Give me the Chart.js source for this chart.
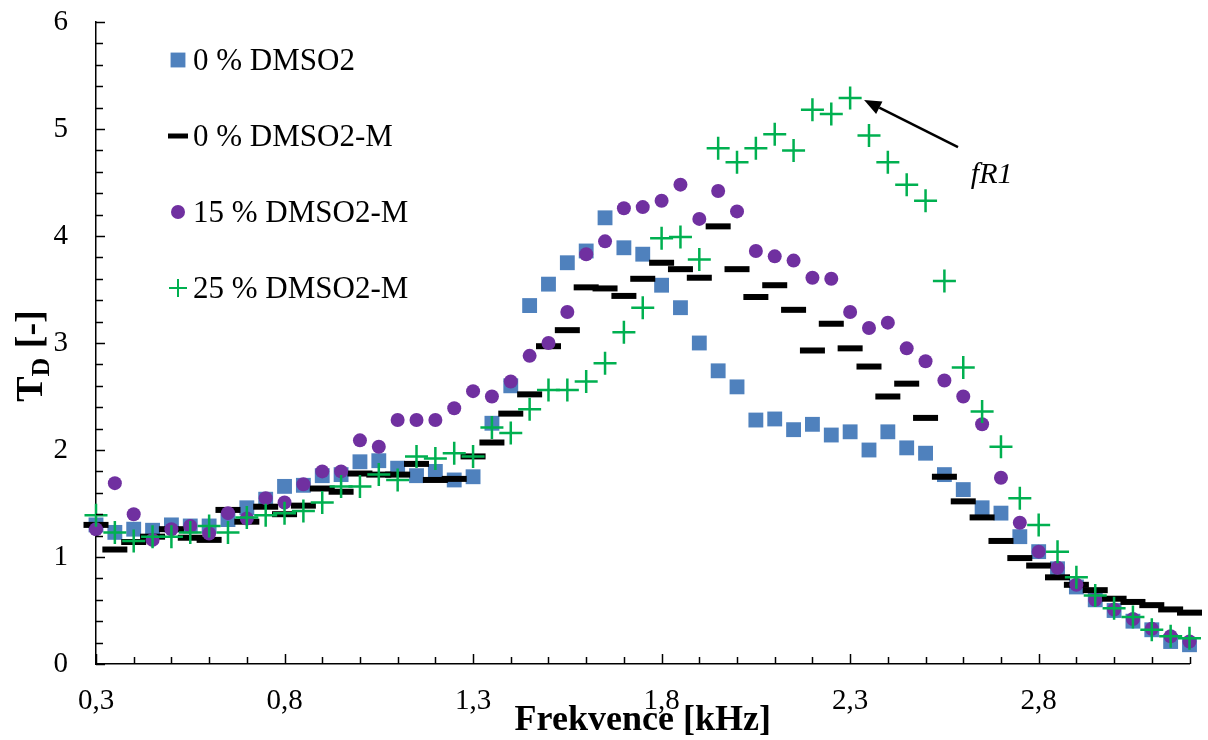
<!DOCTYPE html>
<html lang="cs">
<head>
    <meta charset="UTF-8">
    <title>T_D – Frekvence</title>
    <script src="https://cdn.jsdelivr.net/npm/chart.js"></script>
    <style>
        body { margin: 0; background: #fff; }
        #wrap { width: 1208px; height: 740px; }
    </style>
</head>
<body>
<div id="wrap"><canvas id="graf" width="1208" height="740"></canvas></div>
<script>
// === DATA ===
const frekvence = [0.30, 0.35, 0.40, 0.45, 0.50, 0.55, 0.60, 0.65, 0.70, 0.75,
    0.80, 0.85, 0.90, 0.95, 1.00, 1.05, 1.10, 1.15, 1.20, 1.25,
    1.30, 1.35, 1.40, 1.45, 1.50, 1.55, 1.60, 1.65, 1.70, 1.75,
    1.80, 1.85, 1.90, 1.95, 2.00, 2.05, 2.10, 2.15, 2.20, 2.25,
    2.30, 2.35, 2.40, 2.45, 2.50, 2.55, 2.60, 2.65, 2.70, 2.75,
    2.80, 2.85, 2.90, 2.95, 3.00, 3.05, 3.10, 3.15, 3.20];

const dmso0 = [1.30, 1.23, 1.26, 1.25, 1.30, 1.29, 1.29, 1.35, 1.46, 1.54,
    1.66, 1.67, 1.76, 1.77, 1.89, 1.90, 1.83, 1.76, 1.80, 1.72,
    1.75, 2.25, 2.60, 3.35, 3.55, 3.75, 3.86, 4.17, 3.89, 3.83,
    3.54, 3.33, 3.00, 2.74, 2.59, 2.28, 2.29, 2.19, 2.24, 2.14,
    2.17, 2.00, 2.17, 2.02, 1.97, 1.77, 1.63, 1.46, 1.41, 1.19,
    1.05, 0.89, 0.72, 0.60, 0.50, 0.40, 0.32, 0.21, 0.18];

const dmso0M = [1.30, 1.07, 1.14, 1.19, 1.26, 1.18, 1.16, 1.44, 1.33, 1.47,
    1.40, 1.48, 1.64, 1.61, 1.78, 1.77, 1.77, 1.87, 1.72, 1.73,
    1.94, 2.07, 2.34, 2.52, 2.97, 3.12, 3.52, 3.51, 3.44, 3.60,
    3.75, 3.69, 3.61, 4.09, 3.69, 3.43, 3.54, 3.31, 2.93, 3.18,
    2.95, 2.78, 2.50, 2.62, 2.30, 1.75, 1.52, 1.37, 1.15, 0.99,
    0.92, 0.81, 0.74, 0.69, 0.61, 0.58, 0.55, 0.51, 0.48];

const dmso15M = [1.26, 1.69, 1.40, 1.16, 1.26, 1.29, 1.22, 1.41, 1.36, 1.55,
    1.51, 1.68, 1.80, 1.80, 2.09, 2.03, 2.28, 2.28, 2.28, 2.39,
    2.55, 2.50, 2.64, 2.88, 3.00, 3.29, 3.83, 3.95, 4.26, 4.27,
    4.33, 4.48, 4.16, 4.42, 4.23, 3.86, 3.81, 3.77, 3.61, 3.60,
    3.29, 3.14, 3.19, 2.95, 2.83, 2.65, 2.50, 2.24, 1.74, 1.32,
    1.05, 0.90, 0.74, 0.60, 0.51, 0.42, 0.33, 0.26, 0.21];

const dmso25M = [1.39, 1.23, 1.15, 1.19, 1.19, 1.23, 1.29, 1.23, 1.37, 1.39,
    1.41, 1.43, 1.51, 1.66, 1.66, 1.77, 1.72, 1.94, 1.92, 1.97,
    1.94, 2.21, 2.16, 2.38, 2.56, 2.56, 2.64, 2.81, 3.10, 3.33,
    3.98, 3.99, 3.78, 4.82, 4.69, 4.82, 4.95, 4.80, 5.18, 5.14,
    5.29, 4.94, 4.69, 4.48, 4.33, 3.58, 2.77, 2.36, 2.03, 1.55,
    1.30, 1.05, 0.81, 0.64, 0.52, 0.44, 0.32, 0.26, 0.24];

const xTickValues = [0.3, 0.8, 1.3, 1.8, 2.3, 2.8];
const xTickLabels = ['0,3', '0,8', '1,3', '1,8', '2,3', '2,8'];

// popisek fR1 se sipkou (v jednotkach os)
const sipkaOd = [2.586, 4.83];
const sipkaK = [2.337, 5.27];
const popisFR1 = [2.62, 4.50];

const serif = "'Liberation Serif', 'Times New Roman', serif";

const toPoints = ys => frekvence.map((x, i) => ({ x: x, y: ys[i] }));

// === OSY, LEGENDA, POPISKY ===
const kresliPlugin = {
    id: 'kresli',
    afterDraw(chart) {
        const { ctx, chartArea: a, scales: { x, y } } = chart;
        ctx.save();
        ctx.strokeStyle = '#000';
        ctx.lineWidth = 1.5;

        // vnitrni carky na ose y (po 0,2)
        for (let k = 0; k <= 30; k++) {
            const py = Math.round(y.getPixelForValue(k * 0.2)) + 0.5;
            const len = k % 5 === 0 ? 9 : 7;
            ctx.beginPath();
            ctx.moveTo(a.left, py);
            ctx.lineTo(a.left + len, py);
            ctx.stroke();
        }
        // vnitrni carky na ose x (po 0,1)
        for (let k = 0; k <= 29; k++) {
            const px = Math.round(x.getPixelForValue(0.3 + k * 0.1)) + 0.5;
            const len = k % 5 === 0 ? 10 : 7;
            ctx.beginPath();
            ctx.moveTo(px, a.bottom);
            ctx.lineTo(px, a.bottom - len);
            ctx.stroke();
        }

        // legenda
        const legY = [60, 136, 212, 288];
        chart.data.datasets.forEach((ds, i) => {
            const m = ds.legendMarker;
            ctx.fillStyle = ds.backgroundColor;
            ctx.strokeStyle = ds.borderColor;
            ctx.lineWidth = m.borderWidth;
            Chart.helpers.drawPoint(ctx, { pointStyle: m.pointStyle, radius: m.radius, borderWidth: m.borderWidth, rotation: 0 }, 178, legY[i]);
            ctx.fillStyle = '#000';
            ctx.font = '31px ' + serif;
            ctx.textAlign = 'left';
            ctx.textBaseline = 'middle';
            ctx.fillText(ds.label, 193, legY[i] + 2);
        });

        // popisek osy y: T_D [-]
        ctx.save();
        ctx.translate(42, 356);
        ctx.rotate(-Math.PI / 2);
        ctx.fillStyle = '#000';
        ctx.textBaseline = 'alphabetic';
        const fBig = 'bold 38px ' + serif, fSub = 'bold 26px ' + serif;
        ctx.font = fBig; const wT = ctx.measureText('T').width;
        ctx.font = fSub; const wD = ctx.measureText('D').width;
        ctx.font = fBig; const wR = ctx.measureText(' [-]').width;
        let cx = -(wT + wD + wR) / 2;
        ctx.font = fBig; ctx.fillText('T', cx, 0); cx += wT;
        ctx.font = fSub; ctx.fillText('D', cx, 7); cx += wD;
        ctx.font = fBig; ctx.fillText(' [-]', cx, 0);
        ctx.restore();

        // sipka k fR1
        const x0 = x.getPixelForValue(sipkaOd[0]), y0 = y.getPixelForValue(sipkaOd[1]);
        const x1 = x.getPixelForValue(sipkaK[0]), y1 = y.getPixelForValue(sipkaK[1]);
        const ang = Math.atan2(y1 - y0, x1 - x0);
        const hl = 17, hw = 7;
        const bx = x1 - hl * Math.cos(ang), by = y1 - hl * Math.sin(ang);
        ctx.strokeStyle = '#000';
        ctx.lineWidth = 2.5;
        ctx.beginPath();
        ctx.moveTo(x0, y0);
        ctx.lineTo(bx, by);
        ctx.stroke();
        ctx.fillStyle = '#000';
        ctx.beginPath();
        ctx.moveTo(x1, y1);
        ctx.lineTo(bx + hw * Math.sin(ang), by - hw * Math.cos(ang));
        ctx.lineTo(bx - hw * Math.sin(ang), by + hw * Math.cos(ang));
        ctx.closePath();
        ctx.fill();

        ctx.font = 'italic 30px ' + serif;
        ctx.textAlign = 'left';
        ctx.textBaseline = 'alphabetic';
        ctx.fillText('fR1', x.getPixelForValue(popisFR1[0]), y.getPixelForValue(popisFR1[1]));

        ctx.restore();
    }
};

const graf = new Chart(document.getElementById('graf'), {
    type: 'scatter',
    data: {
        datasets: [
            {
                label: '0 % DMSO2', data: toPoints(dmso0), order: 4, clip: false,
                pointStyle: 'rect', pointRadius: 10.5, pointBorderWidth: 0,
                backgroundColor: '#4F81BD', borderColor: '#4F81BD',
                legendMarker: { pointStyle: 'rect', radius: 10.5, borderWidth: 0 }
            },
            {
                label: '0 % DMSO2-M', data: toPoints(dmso0M), order: 3, clip: false,
                pointStyle: 'line', pointRadius: 12.5, pointBorderWidth: 6,
                backgroundColor: '#000', borderColor: '#000',
                legendMarker: { pointStyle: 'line', radius: 10, borderWidth: 5 }
            },
            {
                label: '15 % DMSO2-M', data: toPoints(dmso15M), order: 2, clip: false,
                pointStyle: 'circle', pointRadius: 7, pointBorderWidth: 0,
                backgroundColor: '#7030A0', borderColor: '#7030A0',
                legendMarker: { pointStyle: 'circle', radius: 7, borderWidth: 0 }
            },
            {
                label: '25 % DMSO2-M', data: toPoints(dmso25M), order: 1, clip: false,
                pointStyle: 'cross', pointRadius: 11.5, pointBorderWidth: 2.5,
                backgroundColor: '#00B050', borderColor: '#00B050',
                legendMarker: { pointStyle: 'cross', radius: 9, borderWidth: 2 }
            }
        ]
    },
    options: {
        responsive: false,
        animation: false,
        events: [],
        layout: { padding: { top: 22, right: 16, left: 0, bottom: 0 } },
        plugins: { legend: { display: false }, tooltip: { enabled: false } },
        scales: {
            x: {
                type: 'linear', min: 0.3, max: 3.2,
                afterBuildTicks: s => { s.ticks = xTickValues.map(v => ({ value: v })); },
                afterFit: s => { s.height = 76; },
                ticks: {
                    callback: (v, i) => xTickLabels[i],
                    autoSkip: false, maxRotation: 0, padding: 0,
                    color: '#000', font: { family: serif, size: 29 }
                },
                grid: { display: false, drawTicks: true, tickLength: 20 },
                border: { display: true, color: '#000', width: 1.5 },
                title: {
                    display: true, text: 'Frekvence [kHz]', color: '#000',
                    font: { family: serif, size: 36, weight: 'bold' },
                    padding: { top: 0, bottom: -2 }
                }
            },
            y: {
                type: 'linear', min: 0, max: 6,
                afterFit: s => { s.width = 96; },
                ticks: {
                    stepSize: 1, padding: 0,
                    color: '#000', font: { family: serif, size: 29 }
                },
                grid: { display: false, drawTicks: true, tickLength: 28 },
                border: { display: true, color: '#000', width: 1.5 }
            }
        }
    },
    plugins: [kresliPlugin]
});
</script>
</body>
</html>
